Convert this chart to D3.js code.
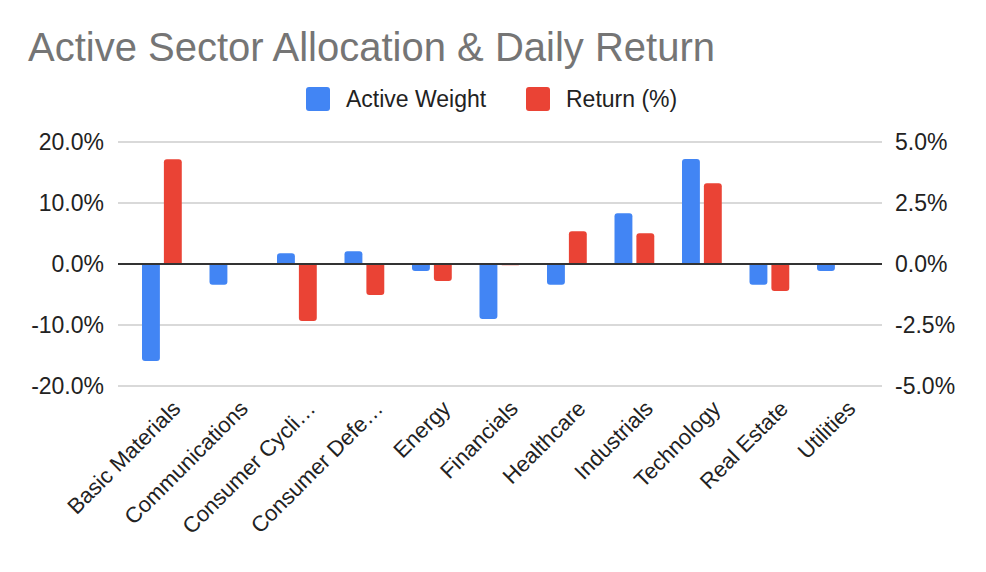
<!DOCTYPE html>
<html><head><meta charset="utf-8">
<script src="https://cdn.jsdelivr.net/npm/d3@7"></script>
<style>body{margin:0;background:#fff}text{font-family:"Liberation Sans",Arial,sans-serif}</style>
</head><body><svg id="c" width="986" height="572"></svg>
<script>
const categories=["Basic Materials","Communications","Consumer Cyclical","Consumer Defensive","Energy","Financials","Healthcare","Industrials","Technology","Real Estate","Utilities"];
const labels=["Basic Materials","Communications","Consumer Cycli…","Consumer Defe…","Energy","Financials","Healthcare","Industrials","Technology","Real Estate","Utilities"];
const activeWeight=[-15.9,-3.4,1.75,2.1,-1.15,-9.0,-3.4,8.3,17.2,-3.4,-1.15];
const returnPct=[4.29,0,-2.34,-1.27,-0.70,-0.05,1.34,1.26,3.31,-1.11,0];
const leftTicks=[-20,-10,0,10,20];
const rightTicks=[-5,-2.5,0,2.5,5];
const svg=d3.select("#c");
const L=118,R=882,T=142,B=386;
const x=d3.scaleBand().domain(categories).range([142,142+67.5*(11-0.47)]).paddingInner(0.47).paddingOuter(0);
const yL=d3.scaleLinear().domain([-20,20]).range([B,T]);
const yR=d3.scaleLinear().domain([-5,5]).range([B,T]);
const fmt=d=>d3.format(".1f")(d).replace("−","-")+"%";
svg.append("text").attr("x",28).attr("y",61).attr("font-size",40).attr("fill","#757575").text("Active Sector Allocation & Daily Return");
const lg=[["Active Weight","#4285f4",306],["Return (%)","#ea4335",526]];
lg.forEach(([t,c,lx])=>{svg.append("rect").attr("x",lx).attr("y",87).attr("width",24).attr("height",24).attr("rx",3).attr("fill",c);
svg.append("text").attr("x",lx+40).attr("y",107).attr("font-size",23).attr("fill","#222").text(t);});
svg.append("g").selectAll("line").data(leftTicks).join("line").attr("x1",L).attr("x2",R).attr("y1",d=>yL(d)).attr("y2",d=>yL(d)).attr("stroke","#ccc").attr("stroke-width",1.5);
svg.append("g").selectAll("text").data(leftTicks).join("text").attr("x",104).attr("y",d=>yL(d)+8).attr("text-anchor","end").attr("font-size",23).attr("fill","#222").text(fmt);
svg.append("g").selectAll("text").data(rightTicks).join("text").attr("x",895).attr("y",d=>yR(d)+8).attr("font-size",23).attr("fill","#222").text(fmt);
const bw=x.bandwidth()/2;
function bar(x0,y0,y1){const top=Math.min(y0,y1),h=Math.abs(y1-y0),r=Math.min(3,h/2);
 if(h<0.01)return "";
 if(y1<y0){return `M${x0},${y0}V${top+r}Q${x0},${top} ${x0+r},${top}H${x0+bw-r}Q${x0+bw},${top} ${x0+bw},${top+r}V${y0}Z`;}
 return `M${x0},${y0}V${y1-r}Q${x0},${y1} ${x0+r},${y1}H${x0+bw-r}Q${x0+bw},${y1} ${x0+bw},${y1-r}V${y0}Z`;}
svg.append("g").selectAll("path").data(categories).join("path").attr("fill","#4285f4").attr("d",(d,i)=>bar(x(d),yL(0),yL(activeWeight[i])));
svg.append("g").selectAll("path").data(categories).join("path").attr("fill","#ea4335").attr("d",(d,i)=>bar(x(d)+bw+4,yL(0),yR(returnPct[i])));
svg.append("line").attr("x1",L).attr("x2",R).attr("y1",yL(0)).attr("y2",yL(0)).attr("stroke","#333").attr("stroke-width",2);
svg.append("g").selectAll("text").data(categories).join("text").attr("font-size",22).attr("fill","#222").attr("text-anchor","end")
 .attr("transform",d=>`translate(${x(d)+bw+22},410) rotate(-45)`).text((d,i)=>labels[i]);
</script></body></html>
